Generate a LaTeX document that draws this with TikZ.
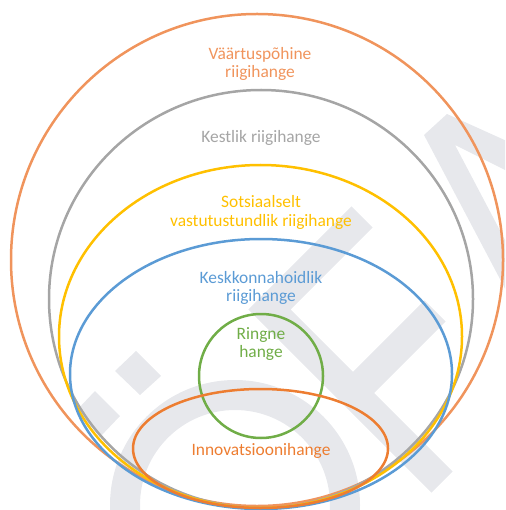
\documentclass[tikz,border=0pt]{standalone}
\usepackage{fontspec}
\setmainfont{Carlito}
\usepackage{tikz}
\definecolor{vaartcol}{RGB}{240,148,92}
\definecolor{kestcol}{RGB}{165,165,165}
\definecolor{sotscol}{RGB}{255,192,0}
\definecolor{keskcol}{RGB}{91,155,213}
\definecolor{ringcol}{RGB}{112,173,71}
\definecolor{innocol}{RGB}{237,125,49}
\definecolor{markcol}{RGB}{231,232,236}
\newcommand{\ringw}{2.5pt}
\newcommand{\markw}{30pt}

\begin{document}
\begin{tikzpicture}[x=1pt,y=-1pt]
        \tikzset{
            loop/.style = {draw=#1, line width=\ringw},
            lbl/.style = {text=#1, align=center, inner sep=0pt, font=\fontsize{17.4}{18.5}\selectfont},
            markstroke/.style = {draw=markcol, line width=\markw}
        }
        \useasboundingbox (0,0) rectangle (505,510);
        %\draw[help lines] (0,0) grid[step=50] (505,510);
        \begin{scope}
            \clip (0,0) rectangle (505,510);
            \draw[markstroke] (235,505) circle[radius=110];
            \fill[markcol] (136,351) -- (161,376) -- (140,395) -- (115,371) -- cycle;
            \fill[markcol] (95,391) -- (120,416) -- (100,437) -- (77,410) -- cycle;
            \draw[markstroke] (362,217) -- (269.5,309.5) -- (442,482);
            \draw[markstroke] (435,311) -- (352,394);
            \fill[markcol] (424,135) -- (447,114) -- (520,147) -- (520,177.5) -- (455,145)
                -- (520,268.5) -- (520,317) -- cycle;
        \end{scope}
        \draw[loop=vaartcol] (257,260) ellipse[x radius=246, y radius=246];
        \draw[loop=kestcol] (261,299) ellipse[x radius=212, y radius=209];
        \draw[loop=sotscol] (260.5,336.5) ellipse[x radius=201.5, y radius=171.5];
        \draw[loop=keskcol] (261,374) ellipse[x radius=191, y radius=135];
        \draw[loop=ringcol] (261,376) circle[radius=62];
        \draw[loop=innocol] (260.5,448.5) ellipse[x radius=127.5, y radius=59.5];
        \node[lbl=vaartcol] (vaart) at (260,64) {Väärtuspõhine\\riigihange};
        \node[lbl=kestcol] (kest) at (261,138) {Kestlik riigihange};
        \node[lbl=sotscol] (sots) at (261,212.5) {Sotsiaalselt\\vastutustundlik riigihange};
        \node[lbl=keskcol] (kesk) at (261,288) {Keskkonnahoidlik\\riigihange};
        \node[lbl=ringcol] (ringne) at (261,344) {Ringne\\hange};
        \node[lbl=innocol] (innov) at (261,451) {Innovatsioonihange};
    \end{tikzpicture}
\end{document}
